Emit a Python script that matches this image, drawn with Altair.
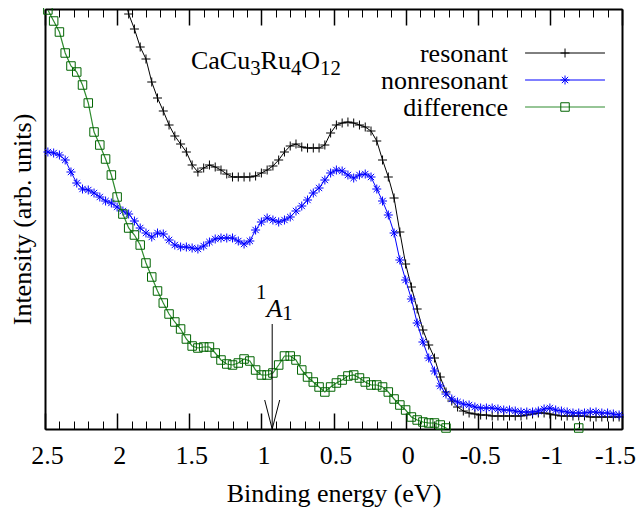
import altair as alt
import pandas as pd

# ---------------- data ----------------
ENERGY = [2.48, 2.44, 2.40, 2.36, 2.32, 2.28, 2.24, 2.20, 2.16, 2.12,
          2.08, 2.04, 2.00, 1.96, 1.92, 1.88, 1.84, 1.80, 1.76, 1.72,
          1.68, 1.64, 1.60, 1.56, 1.52, 1.48, 1.44, 1.40, 1.36, 1.32,
          1.28, 1.24, 1.20, 1.16, 1.12, 1.08, 1.04, 1.00, 0.96, 0.92,
          0.88, 0.84, 0.80, 0.76, 0.72, 0.68, 0.64, 0.60, 0.56, 0.52,
          0.48, 0.44, 0.40, 0.36, 0.32, 0.28, 0.24, 0.20, 0.16, 0.12,
          0.08, 0.04, 0.00, -0.04, -0.08, -0.12, -0.16, -0.20, -0.24, -0.28,
          -0.32, -0.36, -0.40, -0.44, -0.48, -0.52, -0.56, -0.60, -0.64, -0.68,
          -0.72, -0.76, -0.80, -0.84, -0.88, -0.92, -0.96, -1.00, -1.04, -1.08,
          -1.12, -1.16, -1.20, -1.24, -1.28, -1.32, -1.36, -1.40, -1.44, -1.48]

# resonant starts at ENERGY[13] (it leaves the frame above that)
RESONANT = [437, 415, 400, 382, 370, 347, 331, 318, 304, 293,
            285, 277, 264, 257, 261, 264, 262, 259, 255, 252,
            252, 252, 252, 253, 256, 259, 263, 269, 277, 283,
            285, 282, 281, 281, 281, 284, 296, 304, 306, 307,
            306, 304, 302, 298, 288, 269, 252, 231, 197, 165,
            142, 120, 99, 84, 71, 52, 37, 28, 22, 18,
            16, 15, 14, 14, 13, 13, 13, 13, 13, 13,
            14, 15, 16, 16, 15, 14, 13, 13, 13, 13,
            13, 12, 12, 12, 12, 12, 12]

NONRESONANT = [277, 276, 274, 269, 257, 246, 240, 239, 236, 232,
               228, 226, 222, 218, 215, 208, 201, 196, 192, 196,
               195, 189, 184, 182, 182, 181, 180, 183, 187, 190,
               191, 191, 191, 188, 185, 188, 199, 207, 211, 209,
               207, 209, 212, 218, 223, 229, 236, 241, 249, 256,
               259, 258, 254, 251, 254, 255, 252, 240, 228, 214,
               196, 169, 149, 130, 106, 87, 71, 58, 43, 35,
               30, 27, 25, 24, 22, 21, 21, 21, 20, 19,
               19, 18, 17, 17, 17, 18, 20, 21, 19, 18,
               17, 16, 16, 16, 17, 17, 16, 16, 15, 14]

DIFFERENCE = [419, 408, 397, 376, 363, 357, 344, 326, 297, 284,
              270, 254, 232, 215, 201, 194, 184, 166, 152, 138,
              126, 115, 107, 100, 90, 83, 81, 82, 82, 76,
              69, 65, 64, 66, 70, 68, 59, 54, 54, 56,
              64, 73, 73, 69, 59, 52, 47, 42, 37, 42,
              46, 49, 53, 54, 51, 47, 44, 44, 42, 37,
              30, 24, 19, 12, 9, 7, 6, 6, 4, 1,
              -4, -8, -10, -12, -12, -11, -13, -14, -12, -10,
              -12, -14, -13, -11, -9, -8, -10, -12, -9, -6,
              -3, -4, 1, -5, -9, -11, -10, -12, -13, -14]

SERIES = ["resonant", "nonresonant", "difference"]
MAJOR_TICKS = [2.5, 2, 1.5, 1, 0.5, 0, -0.5, -1, -1.5]
MINOR_TICKS = [round(2.5 - 0.1 * k, 1) for k in range(41)]
X_DOMAIN = [-1.5, 2.5]
Y_DOMAIN = [0, 420]
ANNOT_E = 0.925

# ---------------- layout / style ----------------
FONT = "Liberation Serif"
FS = 26
FS_SUB = 20.8
W, H = 577, 420

PLUS = "M-1,0L1,0M0,-1L0,1"
STAR = "M-1,0L1,0M0,-1L0,1M-0.7,-0.7L0.7,0.7M-0.7,0.7L0.7,-0.7"

STYLES = {
    "resonant": dict(line="#000000", point="#000000", shape=PLUS, size=81, lw=1.0),
    "nonresonant": dict(line="#0000ff", point="#0000ff", shape=STAR, size=81, lw=1.0),
    "difference": dict(line="#2e8b2e", point="#006400", shape="square", size=72, lw=1.2),
}

xs = alt.Scale(domain=X_DOMAIN, reverse=True, nice=False, zero=False)
ys = alt.Scale(domain=Y_DOMAIN, nice=False, zero=False)

common_tick = dict(domain=False, grid=False, tickColor="black")
frame = dict(domain=True, domainColor="black", domainWidth=2, ticks=False,
             labels=False, grid=False, title=None)

AX_BOTTOM_MAJOR = alt.Axis(
    orient="bottom", values=MAJOR_TICKS, tickSize=16, offset=-16, tickWidth=1.5,
    labelExpr="datum.value + ''", labelFont=FONT, labelFontSize=FS, labelColor="black",
    labelPadding=34, labelBaseline="alphabetic",
    labelOffset={"condition": {"test": "datum.value < -1.4", "value": -7}, "value": 2},
    labelFlush=False, labelOverlap=False,
    title="Binding energy (eV)", titleFont=FONT, titleFontSize=FS,
    titleFontWeight="normal", titleColor="black", titleBaseline="alphabetic",
    titleAlign="center", titleX=W / 2, titleY=88, **common_tick)
AX_BOTTOM_MINOR = alt.Axis(orient="bottom", values=MINOR_TICKS, tickSize=8, offset=-8,
                           tickWidth=1, labels=False, title=None, **common_tick)
AX_TOP_MAJOR = alt.Axis(orient="top", values=MAJOR_TICKS, tickSize=16, offset=-16,
                        tickWidth=1.5, labels=False, title=None, **common_tick)
AX_TOP_MINOR = alt.Axis(orient="top", values=MINOR_TICKS, tickSize=8, offset=-8,
                        tickWidth=1, labels=False, title=None, **common_tick)
AX_BOTTOM_FRAME = alt.Axis(orient="bottom", **frame)
AX_TOP_FRAME = alt.Axis(orient="top", **frame)
AX_Y = alt.Axis(orient="left", labels=False, ticks=False, domain=True, domainColor="black",
                domainWidth=2, grid=False,
                title="Intensity (arb. units)", titleFont=FONT, titleFontSize=FS,
                titleFontWeight="normal", titleColor="black", titleAngle=270,
                titleBaseline="alphabetic", titleAlign="center", titleX=-15, titleY=H / 2)
AX_Y_RIGHT = alt.Axis(orient="right", **frame)

series_data = {
    "resonant": pd.DataFrame({"E": ENERGY[13:], "v": RESONANT}),
    "nonresonant": pd.DataFrame({"E": ENERGY, "v": NONRESONANT}),
    "difference": pd.DataFrame({"E": ENERGY, "v": DIFFERENCE}),
}

line_x_axes = {"resonant": AX_BOTTOM_MAJOR, "nonresonant": AX_BOTTOM_MINOR,
               "difference": AX_TOP_MAJOR}
point_x_axes = {"resonant": AX_TOP_MINOR, "nonresonant": AX_BOTTOM_FRAME,
                "difference": AX_TOP_FRAME}
line_y_axes = {"resonant": AX_Y, "nonresonant": AX_Y_RIGHT, "difference": None}

one = pd.DataFrame({"k": [0]})


def xd(val):
    return alt.XDatum(val, type="quantitative", scale=xs, axis=None)


def yd(val):
    return alt.YDatum(val, type="quantitative", scale=ys, axis=None)


layers = []
for name in SERIES:
    st = STYLES[name]
    df = series_data[name]
    layers.append(
        alt.Chart(df).mark_line(color=st["line"], strokeWidth=st["lw"], clip=True).encode(
            x=alt.X("E:Q", scale=xs, axis=line_x_axes[name]),
            y=alt.Y("v:Q", scale=ys, axis=line_y_axes[name]),
        )
    )
    layers.append(
        alt.Chart(df)
        .transform_filter(f"datum.v >= {Y_DOMAIN[0]} && datum.v <= {Y_DOMAIN[1]}")
        .mark_point(shape=st["shape"], color=st["point"], filled=False,
                    size=st["size"], strokeWidth=1, opacity=1)
        .encode(
            x=alt.X("E:Q", scale=xs, axis=point_x_axes[name]),
            y=alt.Y("v:Q", scale=ys, axis=None),
        )
    )

# ---------------- legend (gnuplot style: label, then line sample) ----------------
LEG_TEXT_E = -0.710
LEG_X1, LEG_X2, LEG_XM = -0.828, -1.382, -1.105
LEG_TOP, LEG_STEP = 376, 27
for k, name in enumerate(SERIES):
    st = STYLES[name]
    yv = LEG_TOP - LEG_STEP * k
    layers.append(
        alt.Chart(one).mark_rule(color=st["line"], strokeWidth=st["lw"]).encode(
            x=xd(LEG_X1), x2=alt.X2Datum(LEG_X2), y=yd(yv))
    )
    layers.append(
        alt.Chart(one).mark_point(shape=st["shape"], color=st["point"], filled=False,
                                  size=st["size"], strokeWidth=1, opacity=1).encode(
            x=xd(LEG_XM), y=yd(yv))
    )
    layers.append(
        alt.Chart(one).mark_text(text=name, font=FONT, fontSize=FS, color="black",
                                 align="right", baseline="alphabetic", dy=8.5).encode(
            x=xd(LEG_TEXT_E), y=yd(yv))
    )

# ---------------- formula label CaCu3Ru4O12 ----------------
FORMULA_E, FORMULA_V = 1.488, 360
formula_parts = [("CaCu", 0, 0, FS), ("3", 59.2, 6, FS_SUB), ("Ru", 69.6, 0, FS),
                 ("4", 99.9, 6, FS_SUB), ("O", 110.3, 0, FS), ("12", 129.1, 6, FS_SUB)]
for txt, dx, dy, fs in formula_parts:
    layers.append(
        alt.Chart(one).mark_text(text=txt, font=FONT, fontSize=fs, color="black",
                                 align="left", baseline="alphabetic", dx=dx, dy=dy).encode(
            x=xd(FORMULA_E), y=yd(FORMULA_V))
    )

# ---------------- 1A1 annotation with arrow ----------------
A1_E, A1_V = 1.037, 112
a1_parts = [("1", 0, -18, FS_SUB, "normal"), ("A", 10.4, 0, FS, "italic"),
            ("1", 26.3, 3, FS_SUB, "normal")]
for txt, dx, dy, fs, style in a1_parts:
    layers.append(
        alt.Chart(one).mark_text(text=txt, font=FONT, fontSize=fs, fontStyle=style,
                                 color="black", align="left", baseline="alphabetic",
                                 dx=dx, dy=dy).encode(
            x=xd(A1_E), y=yd(A1_V))
    )

ARROW_TOP, HEAD_LEN, HEAD_HALF = 105, 29, 0.052
layers.append(
    alt.Chart(one).mark_rule(color="black", strokeWidth=1).encode(
        x=xd(ANNOT_E), y=yd(ARROW_TOP), y2=alt.Y2Datum(0))
)
head_df = pd.DataFrame({"E": [ANNOT_E + HEAD_HALF, ANNOT_E, ANNOT_E - HEAD_HALF],
                        "v": [HEAD_LEN, 0, HEAD_LEN], "o": [0, 1, 2]})
layers.append(
    alt.Chart(head_df).mark_line(color="black", strokeWidth=1).encode(
        x=alt.X("E:Q", scale=xs, axis=None),
        y=alt.Y("v:Q", scale=ys, axis=None),
        order="o:Q")
)

chart = (
    alt.layer(*layers)
    .resolve_axis(x="independent", y="independent")
    .properties(width=W, height=H, autosize=alt.AutoSizeParams(type="none"),
                padding={"left": 37, "top": 1, "right": 14, "bottom": 79})
    .configure_view(stroke="black", strokeWidth=2)
    .configure(font=FONT)
)

chart.save("out.html", embed_options={"renderer": "svg", "actions": False})
